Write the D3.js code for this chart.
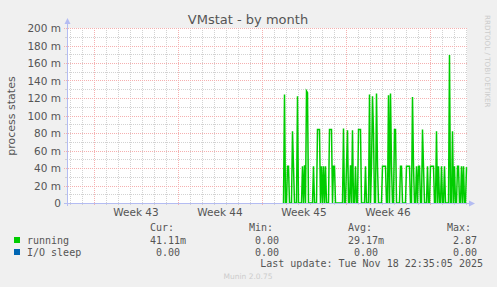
<!DOCTYPE html>
<html>
<head>
<meta charset="utf-8">
<script src="https://cdn.jsdelivr.net/npm/d3@7"></script>
<style>
  body { margin: 0; background: #f0f0f0; }
  text { font-family: "DejaVu Sans", sans-serif; }
  .mono { font-family: "DejaVu Sans Mono", monospace; white-space: pre; }
</style>
</head>
<body>
<div id="chart"></div>
<script>
// time window of the graph (800 h shown, 2 h per pixel)
const graphStart = new Date(Date.UTC(2025, 9, 16, 18));
const graphEnd = new Date(Date.UTC(2025, 10, 19, 2));

// running series, one value (milli) every 2 hours, starting at dataStart
const dataStart = new Date(Date.UTC(2025, 10, 3, 18));
const stepHours = 2;
const running = [
  0, 124, 0, 0, 42, 42, 0, 0, 0, 82, 42, 0,
  0, 0, 122, 0, 0, 0, 0, 42, 0, 43, 0, 128,
  126, 0, 0, 0, 0, 0, 42, 0, 0, 0, 84, 84,
  84, 0, 42, 0, 42, 0, 42, 0, 0, 0, 84, 84,
  84, 0, 42, 42, 0, 0, 0, 0, 0, 0, 0, 0,
  85, 0, 0, 42, 83, 0, 0, 43, 0, 83, 0, 0,
  42, 0, 0, 84, 84, 84, 0, 0, 0, 0, 42, 0,
  0, 0, 124, 0, 42, 122, 80, 0, 0, 125, 42, 0,
  0, 0, 0, 42, 42, 42, 42, 0, 0, 123, 0, 125,
  42, 0, 0, 84, 84, 0, 0, 0, 0, 42, 42, 0,
  0, 0, 0, 42, 42, 42, 42, 0, 0, 121, 42, 0,
  0, 42, 0, 42, 42, 0, 0, 84, 42, 0, 0, 0,
  42, 0, 0, 42, 42, 42, 42, 0, 0, 82, 0, 42,
  0, 0, 42, 0, 0, 42, 0, 0, 0, 0, 169, 0,
  0, 82, 0, 42, 0, 0, 42, 42, 0, 0, 42, 0,
  42, 0, 0, 41
];

// y axis ticks (values in process states)
const yMajor = [0, 0.02, 0.04, 0.06, 0.08, 0.1, 0.12, 0.14, 0.16, 0.18, 0.2];
const yMinor = [0.01, 0.03, 0.05, 0.07, 0.09, 0.11, 0.13, 0.15, 0.17, 0.19];

// legend
const seriesNames = ["running", "I/O sleep"];
const seriesColors = ["#00cc00", "#0066b3"];
const curVals = ["41.11m", "0.00"];
const minVals = ["0.00", "0.00"];
const avgVals = ["29.17m", "0.00"];
const maxVals = ["2.87", "0.00"];

const width = 497, height = 287;
const pLeft = 67, pRight = 467, pTop = 28, pBottom = 203;

const svg = d3.select("#chart").append("svg")
  .attr("width", width).attr("height", height)
  .style("display", "block");

svg.append("rect").attr("width", width).attr("height", height).attr("fill", "#f0f0f0");
svg.append("rect").attr("x", pLeft).attr("y", pTop)
  .attr("width", pRight - pLeft).attr("height", pBottom - pTop).attr("fill", "#fff");

const x = d3.scaleUtc().domain([graphStart, graphEnd]).range([pLeft, pRight]);
const y = d3.scaleLinear().domain([0, 0.2]).range([pBottom, pTop]);

const minorCol = "#d2d2d2", majorCol = "#f5b0b0";

// vertical grid: days (minor) and weeks (major)
const days = d3.utcDay.range(graphStart, graphEnd);
const weeks = d3.utcSunday.range(graphStart, graphEnd);
const px = d => Math.round(x(d)) + 0.5;
const py = d => Math.round(y(d)) + 0.5;
const grid = svg.append("g");
grid.selectAll(".vd").data(days).join("line")
  .attr("x1", px).attr("x2", px)
  .attr("y1", pTop).attr("y2", pBottom)
  .attr("stroke", minorCol).attr("stroke-dasharray", "1,1");
grid.selectAll(".vdt").data(days).join("line")
  .attr("x1", px).attr("x2", px)
  .attr("y1", pBottom).attr("y2", pBottom + 2)
  .attr("stroke", minorCol);
grid.selectAll(".hm").data(yMinor).join("line")
  .attr("x1", pLeft).attr("x2", pRight)
  .attr("y1", py).attr("y2", py)
  .attr("stroke", minorCol).attr("stroke-dasharray", "1,1");
grid.selectAll(".hmt").data(yMinor).join("line")
  .attr("x1", pLeft - 2).attr("x2", pLeft)
  .attr("y1", py).attr("y2", py)
  .attr("stroke", minorCol);
grid.selectAll(".vw").data(weeks).join("line")
  .attr("x1", px).attr("x2", px)
  .attr("y1", pTop).attr("y2", pBottom + 3)
  .attr("stroke", majorCol).attr("stroke-dasharray", "1,1");
grid.selectAll(".hM").data(yMajor).join("line")
  .attr("x1", pLeft - 3).attr("x2", pRight)
  .attr("y1", py).attr("y2", py)
  .attr("stroke", majorCol).attr("stroke-dasharray", "1,1");

// y labels
svg.append("g").selectAll("text").data(yMajor).join("text")
  .attr("x", 61).attr("y", d => y(d) + 4)
  .attr("text-anchor", "end").attr("font-size", 10.5).attr("fill", "#555")
  .text(d => d === 0 ? "0" : Math.round(d * 1000) + " m");

// week labels
svg.append("g").selectAll("text").data(weeks.filter(d => +d3.utcDay.offset(d, 7) <= +graphEnd))
  .join("text")
  .attr("x", d => x(d3.utcHour.offset(d, 84)))
  .attr("y", 216).attr("text-anchor", "middle").attr("font-size", 10.5).attr("fill", "#555")
  .text(d => "Week " + d3.utcFormat("%V")(d3.utcDay.offset(d, 3)));

// series
const pts = running.map((v, i) => [d3.utcHour.offset(dataStart, i * stepHours), v / 1000]);
const line = d3.line().x(d => px(d[0])).y(d => y(d[1]));
svg.append("path").datum(pts)
  .attr("d", line).attr("fill", "none")
  .attr("stroke", seriesColors[0]).attr("stroke-width", 1.5);

// axes with arrows
const axisCol = "#b4bcf2";
svg.append("line").attr("x1", pLeft + 0.5).attr("x2", pLeft + 0.5)
  .attr("y1", pBottom + 3).attr("y2", pTop - 5).attr("stroke", axisCol);
svg.append("path").attr("d", `M${pLeft - 2.5},${pTop - 4} L${pLeft + 3.5},${pTop - 4} L${pLeft + 0.5},${pTop - 10} Z`)
  .attr("fill", axisCol);
svg.append("line").attr("x1", pLeft - 3).attr("x2", pRight + 3)
  .attr("y1", pBottom + 0.5).attr("y2", pBottom + 0.5).attr("stroke", axisCol);
svg.append("path").attr("d", `M${pRight + 2},${pBottom - 2.5} L${pRight + 2},${pBottom + 3.5} L${pRight + 8},${pBottom + 0.5} Z`)
  .attr("fill", axisCol);

// title and labels
svg.append("text").attr("x", 248).attr("y", 24).attr("text-anchor", "middle")
  .attr("font-size", 13).attr("fill", "#555").text("VMstat - by month");
svg.append("text").attr("transform", "translate(15,116) rotate(-90)")
  .attr("text-anchor", "middle").attr("font-size", 11).attr("fill", "#555")
  .text("process states");
svg.append("text").attr("transform", "translate(485,15) rotate(90)")
  .attr("font-size", 7.2).attr("fill", "#ccc").text("RRDTOOL / TOBI OETIKER");

// legend
const mono = svg.append("g").attr("class", "mono").attr("font-size", 10).attr("fill", "#555");
const cols = [
  { head: "Cur:", x: 150, vals: curVals },
  { head: "Min:", x: 249, vals: minVals },
  { head: "Avg:", x: 348, vals: avgVals },
  { head: "Max:", x: 447, vals: maxVals }
];
const fmt = s => (/[a-z]$/.test(s) ? s.slice(0, -1).padStart(5) + s.slice(-1) : s.padStart(5) + " ");
cols.forEach(c => {
  mono.append("text").attr("class", "mono").attr("x", c.x).attr("y", 231).text(c.head);
  c.vals.forEach((v, i) => {
    mono.append("text").attr("class", "mono").attr("x", c.x).attr("y", 243.5 + i * 12).text(fmt(v));
  });
});
seriesNames.forEach((n, i) => {
  svg.append("rect").attr("x", 14).attr("y", 237 + i * 12).attr("width", 6).attr("height", 6)
    .attr("fill", seriesColors[i]);
  mono.append("text").attr("class", "mono").attr("x", 27).attr("y", 243.5 + i * 12).text(n);
});
mono.append("text").attr("class", "mono").attr("x", 483).attr("y", 267).attr("text-anchor", "end")
  .text("Last update: Tue Nov 18 22:35:05 2025");
svg.append("text").attr("x", 248).attr("y", 279).attr("text-anchor", "middle")
  .attr("font-size", 7.5).attr("fill", "#ccc").text("Munin 2.0.75");
</script>
</body>
</html>
